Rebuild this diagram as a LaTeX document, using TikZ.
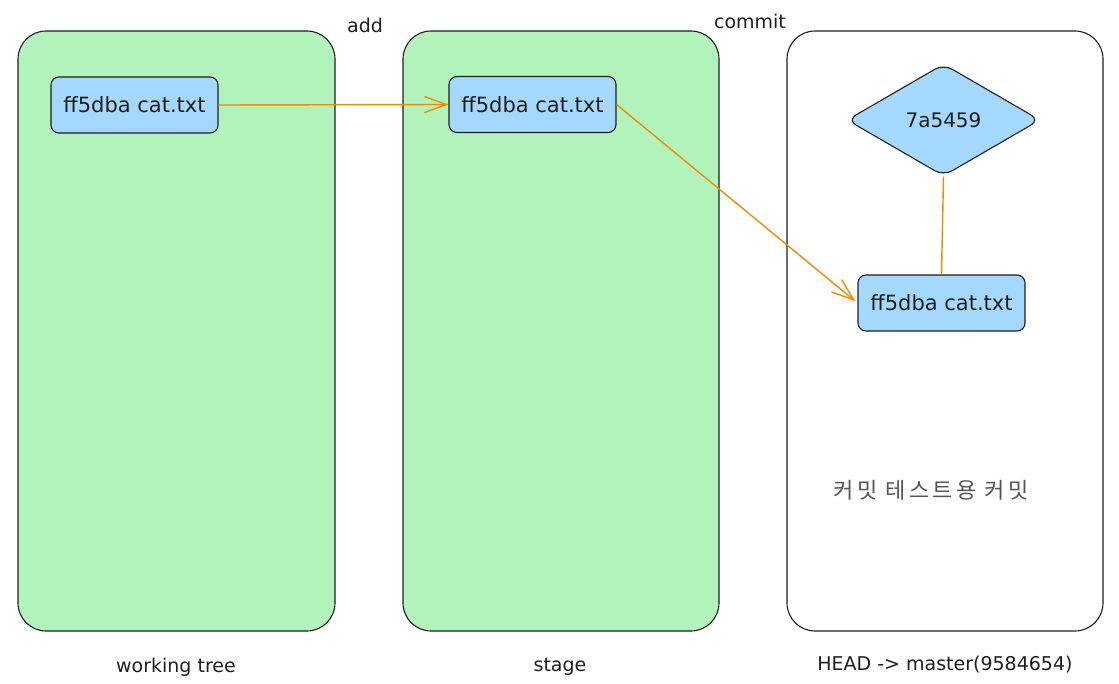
\documentclass[tikz,border=0pt]{standalone}
\usepackage{fontspec}
\setmainfont{DejaVu Sans}
\newfontfamily\krfont[LetterSpace=15]{Noto Sans CJK KR}
\usetikzlibrary{arrows.meta,shapes.geometric}
\definecolor{panelgreen}{HTML}{B2F2BB}
\definecolor{nodeblue}{HTML}{A5D8FF}
\definecolor{ink}{HTML}{1E1E1E}
\definecolor{arrowor}{HTML}{F08C00}
\definecolor{kgrey}{HTML}{555555}
\tikzset{
  panel/.style={draw=ink, line width=1.1pt, rounded corners=28pt},
  filebox/.style={draw=ink, fill=nodeblue, line width=1.1pt, rounded corners=8pt,
    minimum width=167pt, minimum height=56pt, inner sep=0pt,
    font=\fontsize{21}{24}\selectfont, text=ink},
  lbl/.style={font=\fontsize{19}{22}\selectfont, text=ink},
  flow/.style={draw=arrowor, line width=1.4pt, -{Straight Barb[length=22pt,width=16pt,line width=1.4pt]}},
  tie/.style={draw=arrowor, line width=1.4pt},
}
\begin{document}
\begin{tikzpicture}[x=1pt,y=-1pt]
\useasboundingbox (0,0) rectangle (1119,684);
% panels
\draw[panel, fill=panelgreen] (18,31) rectangle (335,631);
\draw[panel, fill=panelgreen] (403,31) rectangle (719,631);
\draw[panel, fill=white] (787,31) rectangle (1103,631);
% file nodes
\node[filebox] (wt) at (134.5,105) {ff5dba cat.txt};
\node[filebox] (st) at (532.5,104.5) {ff5dba cat.txt};
\node[filebox] (cm) at (941.5,303) {ff5dba cat.txt};
% commit diamond
\node[diamond, draw=ink, fill=nodeblue, line width=1.1pt, rounded corners=10pt,
  minimum width=193pt, minimum height=112pt, inner sep=0pt,
  font=\fontsize{20}{24}\selectfont, text=ink] (dia) at (943.5,120) {7a5459};
% connectors
\draw[flow] (wt.east) -- (st.west);
\draw[flow, shorten >=3pt] (st.east) -- (cm.west);
\draw[tie] (dia.south) -- (cm.north);
% labels
\node[lbl] (add) at (365,25) {add};
\node[lbl] (commit) at (750,21) {commit};
\node[font=\krfont\fontsize{22}{26}\selectfont, text=kgrey] (msg) at (931,490) {커밋 테스트용 커밋};
\node[lbl] (wtl) at (176,667) {working tree};
\node[lbl] (stl) at (560,667) {stage};
\node[lbl] (head) at (945,665) {HEAD -> master(9584654)};
\end{tikzpicture}
\end{document}
